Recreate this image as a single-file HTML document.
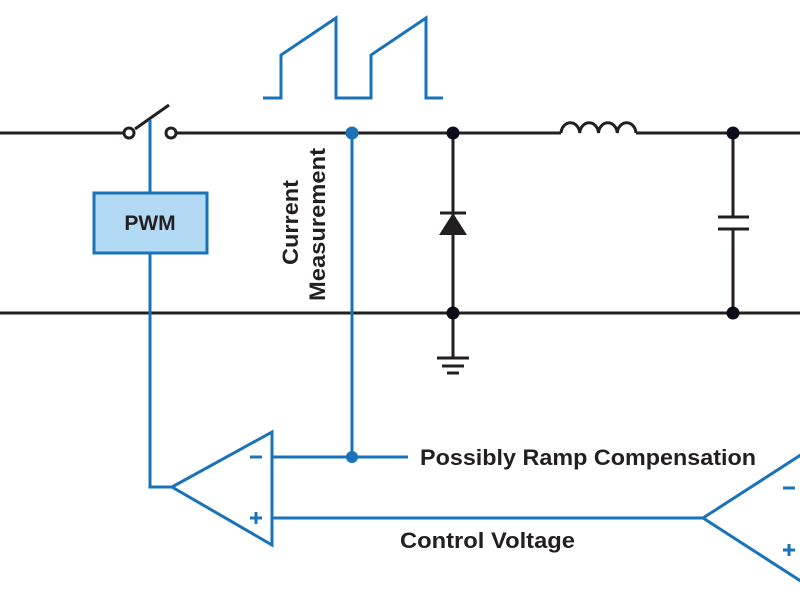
<!DOCTYPE html>
<html><head><style>body{margin:0;background:#fff}svg{display:block}</style></head><body>
<svg width="800" height="600" viewBox="0 0 800 600" xmlns="http://www.w3.org/2000/svg">
<g stroke="#231f20" stroke-width="3" fill="none">
<line x1="0" y1="133" x2="124" y2="133"/>
<line x1="176" y1="133" x2="561" y2="133"/>
<path d="M561 133 a9.4 11 0 0 1 18.75 0 a9.4 11 0 0 1 18.75 0 a9.4 11 0 0 1 18.75 0 a9.4 11 0 0 1 18.75 0"/>
<line x1="636" y1="133" x2="800" y2="133"/>
<line x1="0" y1="313" x2="800" y2="313"/>
<line x1="135" y1="129" x2="169" y2="105"/>
<line x1="453" y1="133" x2="453" y2="358"/>
<line x1="733" y1="133" x2="733" y2="217"/>
<line x1="733" y1="229" x2="733" y2="313"/>
<line x1="718" y1="217" x2="749" y2="217"/>
<line x1="718" y1="229" x2="749" y2="229"/>
<line x1="440" y1="213" x2="466" y2="213"/>
<line x1="437" y1="358" x2="469" y2="358"/>
<line x1="442" y1="366" x2="464" y2="366"/>
<line x1="447" y1="373" x2="459" y2="373"/>
<circle cx="129" cy="133" r="5" fill="#fff"/>
<circle cx="171" cy="133" r="5" fill="#fff"/>
</g>
<polygon points="453,213 439,235 467,235" fill="#231f20"/>
<g fill="#0d0d1a">
<circle cx="453" cy="133" r="6.5"/><circle cx="453" cy="313" r="6.5"/>
<circle cx="733" cy="133" r="6.5"/><circle cx="733" cy="313" r="6.5"/>
</g>
<g stroke="#1a73b8" stroke-width="3" fill="none">
<polyline points="263,98 281,98 281,55 336,18 336,98 371,98 371,55 426,18 426,98 443,98"/>
<line x1="150" y1="120" x2="150" y2="193"/>
<polyline points="150,253 150,487 172,487"/>
<line x1="352" y1="133" x2="352" y2="457"/>
<line x1="272" y1="457" x2="408" y2="457"/>
<line x1="272" y1="518" x2="703" y2="518"/>
<polygon points="172,487 272,432 272,545"/>
<polyline points="810,449 703,518 810,587"/>
<line x1="250" y1="457" x2="262" y2="457"/>
<line x1="250" y1="518" x2="262" y2="518"/><line x1="256" y1="512" x2="256" y2="524"/>
<line x1="783" y1="488" x2="795" y2="488"/>
<line x1="783" y1="550" x2="795" y2="550"/><line x1="789" y1="544" x2="789" y2="556"/>
</g>
<rect x="94" y="193" width="113" height="60" fill="#b3daf5" stroke="#1a73b8" stroke-width="3"/>
<g fill="#1a73b8"><circle cx="352" cy="133" r="6.5"/><circle cx="352" cy="457" r="6"/></g>
<g font-family="Liberation Sans, sans-serif" font-weight="bold" fill="#231f20">
<text x="150" y="230" font-size="21" text-anchor="middle">PWM</text>
<text x="420" y="465" font-size="22" textLength="336" lengthAdjust="spacingAndGlyphs">Possibly Ramp Compensation</text>
<text x="400" y="548" font-size="22" textLength="175" lengthAdjust="spacingAndGlyphs">Control Voltage</text>
<text transform="translate(298,265) rotate(-90)" font-size="22" textLength="85" lengthAdjust="spacingAndGlyphs">Current</text>
<text transform="translate(325,301) rotate(-90)" font-size="22" textLength="153" lengthAdjust="spacingAndGlyphs">Measurement</text>
</g>
</svg>
</body></html>
